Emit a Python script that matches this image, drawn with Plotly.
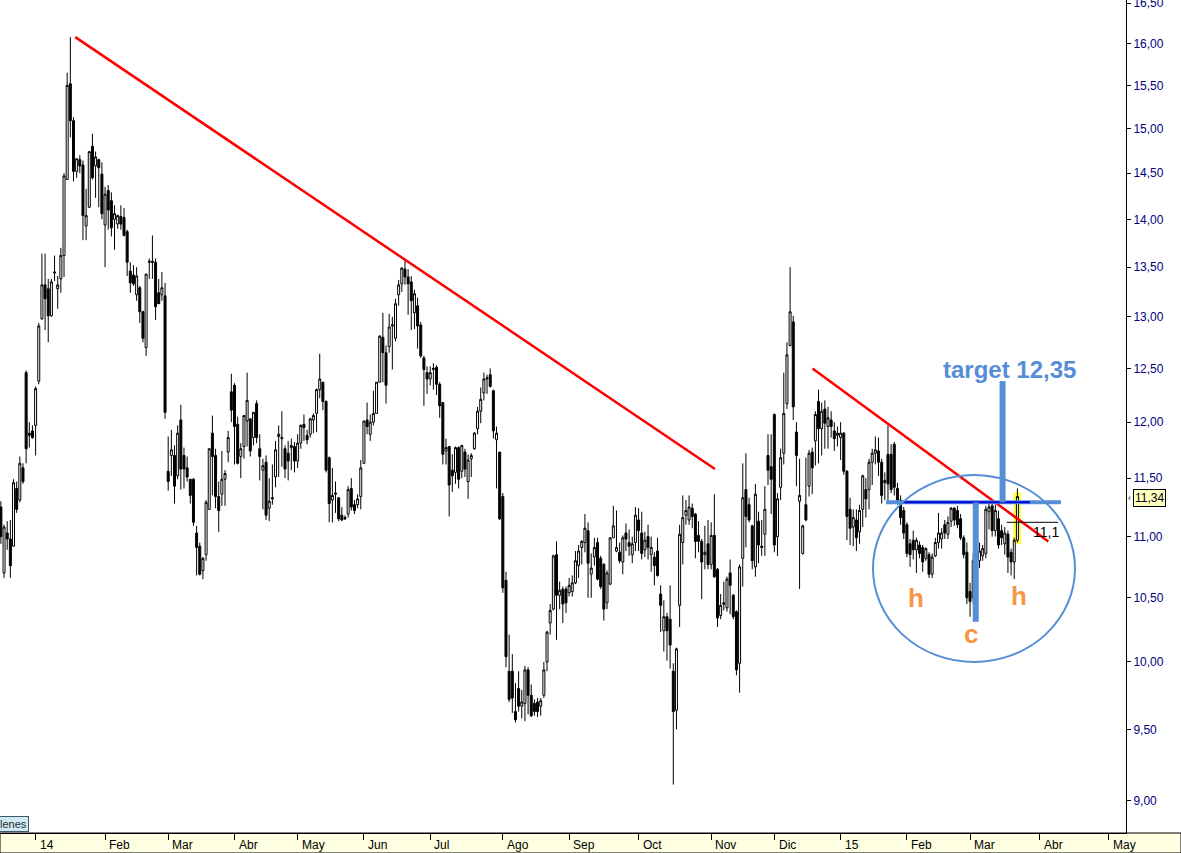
import numpy as np
import pandas as pd
import plotly.graph_objects as go

# ---------------- calendar / labels ----------------
FIRST_SESSION = "2013-12-13"
LAST_SESSION = "2015-03-23"
AXIS_END = "2015-05-29"
HOLIDAYS = ["2013-12-25", "2013-12-26", "2014-01-01", "2014-04-18", "2014-04-21",
            "2014-05-01", "2014-12-25", "2014-12-26", "2015-01-01"]
MONTH_NAMES = ["Ene", "Feb", "Mar", "Abr", "May", "Jun", "Jul", "Ago", "Sep", "Oct", "Nov", "Dic"]
PRICE_TICKS = [9.0, 9.5, 10.0, 10.5, 11.0, 11.5, 12.0, 12.5, 13.0, 13.5, 14.0, 14.5, 15.0, 15.5, 16.0, 16.5]
LAST_PRICE = 11.34

# ---------------- daily OHLC ----------------
opens = [
    11.25, 10.70, 11.03, 10.98, 10.92, 11.41, 11.31, 11.59, 12.46, 11.90,
    11.92, 11.97, 12.38, 12.98, 13.32, 13.28, 13.01, 13.44, 13.28, 13.38,
    13.62, 14.43, 15.52, 15.09, 14.52, 14.65, 14.59, 13.93, 14.13, 14.80,
    14.58, 14.65, 14.49, 13.94, 14.31, 14.20, 14.00, 13.95, 14.03, 14.02,
    13.87, 13.46, 13.42, 13.22, 13.29, 13.05, 12.70, 13.55, 13.56, 13.55,
    13.24, 13.22, 13.21, 11.56, 11.70, 11.70, 11.52, 12.02, 11.70, 11.59,
    11.49, 11.49, 11.03, 10.92, 10.72, 10.85, 11.23, 11.90,
    11.70, 11.34, 11.36, 11.49, 11.73, 12.28, 12.34, 11.98, 11.69, 11.78,
    12.01, 12.03, 11.86, 12.17, 11.76, 11.57, 11.64, 11.24, 11.32, 11.51,
    11.87, 11.85, 11.76, 11.72, 11.77, 11.78, 11.65, 11.81, 11.98, 11.88,
    11.89, 12.02, 12.08, 12.30, 12.37, 12.19, 11.68, 11.31, 11.36, 11.33,
    11.18, 11.16, 11.19, 11.41, 11.27, 11.27, 11.34, 11.63, 12.02, 11.89,
    12.00, 12.08, 12.37, 12.80, 12.65, 12.71, 12.91, 12.79, 13.22, 13.33,
    13.48, 13.40, 13.35, 13.04, 13.11, 12.92,
    12.60,
    12.46, 12.40, 12.49, 12.51, 12.35, 12.18, 11.74, 11.78, 11.57, 11.55,
    11.77, 11.56, 11.73, 11.47, 11.67, 11.76, 11.94, 12.10, 12.27, 12.40,
    12.44, 12.29, 11.84, 11.73, 11.34, 10.64, 9.93, 9.93, 9.63, 9.80,
    9.67, 9.69, 9.94, 9.75, 9.69, 9.70, 9.67, 9.75, 10.00, 10.30,
    10.41, 10.85, 10.52, 10.57, 10.57, 10.54, 10.55, 10.62, 10.76, 10.91,
    10.95, 11.05, 10.69, 10.83, 10.95, 10.82, 10.77, 10.46, 10.61, 10.99,
    10.88, 10.87, 10.79,
    11.03, 10.95, 10.85, 10.95, 11.14, 11.03, 10.89, 11.00, 10.85, 10.83,
    10.88, 10.53, 10.24, 10.35, 10.33, 9.93, 9.64, 10.44, 10.95, 11.18,
    11.14, 11.24, 11.19, 11.01, 10.96, 10.85, 10.94, 10.77, 11.01, 10.73,
    10.36, 10.46, 10.42, 10.70, 10.52, 10.39, 9.99, 10.82, 11.40, 11.27,
    11.09, 10.75, 11.13, 10.92, 11.02, 11.70, 11.60, 12.07, 11.00, 11.42,
    11.72, 12.17, 12.72, 12.95, 11.91, 11.30, 10.86, 11.27, 11.43, 11.73,
    11.83, 12.19, 11.94, 12.12, 11.96,
    12.02, 11.92, 11.88, 11.86, 11.90, 11.56, 11.23, 11.08, 11.14, 11.04,
    11.23, 11.40, 11.40, 11.64, 11.72, 11.74, 11.64, 11.46, 11.71, 11.71, 11.80,
    11.41, 11.31, 11.22, 11.10, 10.94, 10.97, 10.89, 10.93, 10.91, 10.82,
    10.85, 10.69, 10.84, 10.95, 10.98, 11.10, 11.02, 11.13, 11.24, 11.22,
    11.15, 10.99, 10.87, 10.55, 10.50, 10.83, 10.80, 10.84, 10.86, 11.21,
    11.26, 11.05, 11.15, 11.05, 10.94, 11.02, 10.87, 10.79, 10.97,
]
highs = [
    11.30, 11.10, 11.13, 11.14, 11.49, 11.47, 11.69, 11.63, 12.48, 12.00,
    11.97, 12.33, 12.94, 13.64, 13.64, 13.38, 13.38, 13.62, 13.41, 13.70,
    14.50, 15.65, 16.08, 15.13, 14.66, 14.70, 14.64, 14.33, 14.74, 14.94,
    14.74, 14.66, 14.62, 14.35, 14.37, 14.29, 14.15, 14.05, 14.15, 14.12,
    13.89, 13.55, 13.52, 13.50, 13.31, 13.06, 13.43, 13.59, 13.83, 13.59,
    13.38, 13.45, 13.34, 11.87, 11.93, 11.79, 11.97, 12.16, 11.77, 11.69,
    11.49, 11.50, 11.09, 10.95, 10.83, 11.31, 11.76, 12.06,
    11.76, 11.47, 11.74, 11.57, 11.92, 12.45, 12.36, 12.05, 11.81, 12.06,
    12.46, 12.03, 12.09, 12.20, 11.89, 11.67, 11.70, 11.50, 11.62, 11.83,
    11.97, 12.10, 11.79, 11.83, 11.85, 11.82, 11.89, 11.98, 12.07, 11.93,
    12.04, 12.08, 12.31, 12.64, 12.37, 12.20, 11.69, 11.59, 11.47, 11.33,
    11.25, 11.18, 11.43, 11.50, 11.31, 11.36, 11.66, 12.01, 12.18, 12.07,
    12.29, 12.37, 12.82, 13.04, 12.72, 13.03, 13.00, 13.18, 13.37, 13.50,
    13.58, 13.48, 13.41, 13.27, 13.19, 12.95,
    12.62,
    12.52, 12.52, 12.55, 12.53, 12.37, 12.18, 11.85, 11.78, 11.71, 11.78,
    11.78, 11.79, 11.76, 11.71, 11.72, 11.91, 12.14, 12.32, 12.46, 12.44,
    12.50, 12.30, 11.96, 11.73, 11.37, 10.71, 10.21, 10.06, 9.84, 9.93,
    9.79, 9.97, 9.96, 9.83, 9.72, 9.73, 9.73, 10.00, 10.24, 10.45,
    10.85, 10.96, 10.63, 10.59, 10.59, 10.66, 10.68, 10.88, 10.93, 10.97,
    11.19, 11.12, 10.86, 10.99, 10.99, 10.84, 10.78, 10.72, 10.99, 11.26,
    11.22, 10.95, 11.01,
    11.11, 11.06, 11.00, 11.25, 11.24, 11.21, 11.04, 11.10, 11.00, 10.87,
    10.99, 10.60, 10.48, 10.38, 10.60, 9.99, 10.11, 11.10, 11.35, 11.31,
    11.35, 11.28, 11.20, 11.13, 10.98, 11.09, 11.14, 11.12, 11.36, 10.74,
    10.53, 10.63, 10.67, 10.81, 10.53, 10.40, 10.77, 11.63, 11.72, 11.33,
    11.10, 11.45, 11.21, 11.14, 11.43, 11.89, 11.89, 12.08, 11.37, 11.76,
    12.46, 12.75, 13.50, 13.01, 12.00, 11.67, 11.10, 11.68, 11.75, 11.77,
    12.10, 12.30, 12.18, 12.20, 12.14,
    12.10, 12.00, 11.96, 12.00, 11.91, 11.57, 11.33, 11.23, 11.23, 11.27,
    11.53, 11.50, 11.67, 11.76, 11.87, 11.86, 11.67, 11.55, 11.97, 11.80, 11.82,
    11.46, 11.35, 11.25, 11.12, 10.98, 11.05, 10.99, 10.96, 10.93, 10.91,
    10.87, 10.86, 10.99, 11.20, 11.07, 11.14, 11.17, 11.25, 11.25, 11.26,
    11.19, 11.01, 10.95, 10.62, 10.86, 10.90, 10.95, 10.93, 11.26, 11.30,
    11.30, 11.27, 11.22, 11.10, 11.08, 11.05, 10.90, 10.99, 11.41,
]
lows = [
    10.94, 10.66, 10.89, 10.66, 10.92, 11.20, 11.29, 11.45, 11.63, 11.77,
    11.85, 11.70, 12.35, 12.97, 12.87, 12.75, 13.00, 13.36, 13.08, 13.24,
    13.40, 14.43, 14.90, 14.41, 14.45, 14.50, 13.78, 13.78, 14.12, 14.43,
    14.23, 14.13, 14.00, 13.50, 13.89, 13.82, 13.68, 13.90, 13.89, 13.82,
    13.41, 13.24, 13.31, 13.16, 12.94, 12.75, 12.62, 13.38, 13.38, 12.97,
    13.13, 13.16, 12.03, 11.39, 11.52, 11.28, 11.49, 11.40, 11.41, 11.47,
    11.28, 11.09, 10.68, 10.68, 10.65, 10.80, 11.23, 11.35,
    11.24, 11.04, 11.26, 11.26, 11.64, 12.00, 11.62, 11.62, 11.50, 11.67,
    11.78, 11.69, 11.79, 11.81, 11.48, 11.23, 11.14, 11.13, 11.27, 11.42,
    11.51, 11.60, 11.50, 11.48, 11.57, 11.55, 11.59, 11.76, 11.83, 11.80,
    11.86, 11.90, 11.91, 12.22, 12.11, 11.55, 11.12, 11.12, 11.20, 11.13,
    11.13, 11.14, 11.16, 11.22, 11.19, 11.24, 11.23, 11.63, 11.89, 11.83,
    11.97, 12.08, 12.37, 12.37, 12.17, 12.65, 12.49, 12.76, 13.11, 13.25,
    13.32, 13.02, 12.87, 12.88, 12.69, 12.60,
    12.15,
    12.26, 12.34, 12.30, 12.25, 12.04, 11.62, 11.62, 11.17, 11.38, 11.45,
    11.41, 11.50, 11.51, 11.32, 11.51, 11.75, 11.89, 11.99, 12.20, 12.26,
    12.32, 11.85, 11.41, 11.14, 10.54, 9.96, 9.70, 9.62, 9.55, 9.63,
    9.58, 9.56, 9.61, 9.59, 9.60, 9.59, 9.60, 9.73, 9.93, 10.21,
    10.40, 10.17, 10.41, 10.30, 10.38, 10.51, 10.51, 10.61, 10.66, 10.77,
    10.87, 10.50, 10.50, 10.76, 10.64, 10.57, 10.32, 10.41, 10.60, 10.99,
    10.87, 10.78, 10.69,
    10.88, 10.84, 10.78, 10.88, 10.88, 10.81, 10.83, 10.81, 10.71, 10.60,
    10.67, 10.23, 10.08, 10.01, 9.95, 9.11, 9.50, 10.27, 10.77, 11.10,
    11.10, 11.07, 10.82, 10.87, 10.49, 10.73, 10.73, 10.73, 10.66, 10.27,
    10.33, 10.40, 10.39, 10.37, 10.33, 9.90, 9.77, 10.59, 10.91, 11.12,
    10.73, 10.67, 10.78, 10.84, 10.84, 11.44, 11.19, 10.87, 10.84, 11.31,
    11.62, 12.12, 12.71, 12.02, 11.43, 10.57, 10.85, 11.13, 11.34, 11.36,
    11.61, 11.63, 11.70, 11.76, 11.76,
    11.86, 11.74, 11.78, 11.66, 11.53, 10.97, 10.93, 10.92, 10.88, 10.94,
    11.08, 11.16, 11.23, 11.44, 11.62, 11.52, 11.28, 11.31, 11.28, 11.37, 11.35,
    11.27, 11.10, 10.98, 10.83, 10.75, 10.81, 10.70, 10.82, 10.71, 10.80,
    10.66, 10.66, 10.83, 10.90, 10.90, 10.98, 10.98, 11.08, 11.09, 11.07,
    10.97, 10.82, 10.45, 10.35, 10.45, 10.70, 10.74, 10.80, 10.82, 11.06,
    11.00, 11.00, 10.90, 10.93, 10.85, 10.70, 10.68, 10.65, 10.95,
]
closes = [
    11.00, 11.08, 10.98, 10.76, 11.46, 11.23, 11.63, 11.47, 11.76, 11.88,
    11.86, 12.31, 12.91, 13.32, 13.18, 13.01, 13.35, 13.45, 13.32, 13.62,
    14.47, 15.50, 15.09, 14.52, 14.66, 14.58, 14.04, 14.04, 14.74, 14.45,
    14.68, 14.56, 14.06, 14.27, 14.10, 13.91, 14.06, 14.04, 13.95, 13.83,
    13.55, 13.34, 13.33, 13.41, 13.05, 12.79, 13.43, 13.56, 13.55, 13.10,
    13.13, 13.29, 12.09, 11.47, 11.75, 11.43, 11.90, 11.58, 11.58, 11.51,
    11.35, 11.12, 10.91, 10.69, 10.82, 11.29, 11.76, 11.69,
    11.34, 11.22, 11.49, 11.54, 11.86, 12.11, 11.96, 11.63, 11.76, 12.06,
    12.20, 11.74, 12.09, 11.86, 11.69, 11.61, 11.18, 11.30, 11.33, 11.75,
    11.89, 11.86, 11.58, 11.65, 11.79, 11.65, 11.81, 11.97, 11.95, 11.84,
    12.03, 12.06, 12.30, 12.40, 12.19, 11.57, 11.28, 11.35, 11.37, 11.15,
    11.14, 11.15, 11.40, 11.25, 11.22, 11.32, 11.59, 12.01, 11.96, 12.00,
    12.08, 12.37, 12.81, 12.65, 12.34, 12.90, 12.92, 13.13, 13.32, 13.49,
    13.40, 13.33, 13.16, 13.23, 12.91, 12.62,
    12.49,
    12.40, 12.46, 12.50, 12.35, 12.15, 11.71, 11.77, 11.44, 11.52, 11.77,
    11.49, 11.79, 11.58, 11.66, 11.70, 11.90, 12.10, 12.21, 12.40, 12.41,
    12.33, 11.92, 11.90, 11.15, 10.58, 10.04, 9.72, 9.73, 9.57, 9.67,
    9.70, 9.94, 9.75, 9.60, 9.63, 9.63, 9.71, 9.94, 10.23, 10.40,
    10.84, 10.52, 10.56, 10.45, 10.46, 10.60, 10.62, 10.80, 10.88, 10.96,
    11.07, 10.78, 10.74, 10.91, 10.65, 10.59, 10.41, 10.70, 10.99, 11.09,
    10.91, 10.80, 10.99,
    10.98, 10.92, 10.94, 11.18, 11.05, 10.86, 10.97, 10.91, 10.91, 10.76,
    10.68, 10.44, 10.35, 10.24, 10.13, 9.63, 10.10, 11.02, 11.16, 11.22,
    11.25, 11.17, 10.96, 10.96, 10.79, 10.87, 10.77, 11.01, 10.67, 10.34,
    10.44, 10.45, 10.65, 10.60, 10.35, 9.94, 10.75, 11.33, 11.17, 11.14,
    10.80, 11.36, 10.93, 10.91, 11.23, 11.57, 11.49, 10.93, 11.32, 11.68,
    12.08, 12.63, 13.05, 12.14, 11.70, 11.35, 11.09, 11.14, 11.72, 11.59,
    12.07, 11.94, 12.10, 11.99, 12.04,
    11.96, 11.85, 11.90, 11.90, 11.56, 11.17, 11.07, 11.16, 10.99, 11.22,
    11.52, 11.32, 11.64, 11.72, 11.75, 11.64, 11.35, 11.48, 11.45, 11.40, 11.42,
    11.31, 11.16, 11.03, 10.86, 10.85, 10.89, 10.97, 10.86, 10.79, 10.90,
    10.69, 10.83, 10.95, 11.03, 11.03, 11.03, 11.12, 11.24, 11.14, 11.10,
    10.99, 10.85, 10.50, 10.47, 10.80, 10.79, 10.88, 10.90, 11.23, 11.25,
    11.05, 11.22, 10.93, 10.99, 11.03, 10.83, 10.79, 10.97, 11.34,
]

# ---------------- drawn annotations (session index, price) ----------------
TREND_1 = [(23.57, 16.08), (226.2, 11.58)]
TREND_2 = [(257.1, 12.50), (331.8, 10.96)]
NECK_WIDE = [(280.4, 11.29), (335.8, 11.29)]
NECK_DARK = [(285.7, 11.29), (326.0, 11.29)]
C_BAR = [(308.8, 10.31), (308.8, 11.29)]
TARGET_BAR = [(317.3, 11.29), (317.3, 12.38)]
MARK_11 = [(318.6, 11.12), (334.9, 11.12)]

# ---------------- geometry ----------------
W, H = 1181, 853
PLOT_W, PLOT_H = 1126, 833
X_RANGE = [-0.28, 356.4]
Y_RANGE = [np.log10(8.781), np.log10(16.54)]
FONT = "Liberation Sans, Arial, sans-serif"
BLUE = "#558ED5"
ORANGE = "#F79646"


def pxx(v):
    return v / PLOT_W


def pxy(v):
    return 1 - v / PLOT_H


n = min(len(opens), len(highs), len(lows), len(closes))
sessions = pd.bdate_range(FIRST_SESSION, LAST_SESSION, freq="C", holidays=HOLIDAYS)
future = pd.bdate_range(pd.Timestamp(LAST_SESSION) + pd.Timedelta(days=1), AXIS_END)
calendar = list(sessions) + list(future)
x = list(range(n))
hover_dates = [d.strftime("%d/%m/%Y") for d in calendar[:n]]

tickvals, ticktext = [], []
for i in range(1, len(calendar)):
    if calendar[i].month != calendar[i - 1].month:
        tickvals.append(i)
        m = calendar[i].month
        ticktext.append(f"{calendar[i].year % 100:02d}" if m == 1 else MONTH_NAMES[m - 1])

fig = go.Figure()
fig.add_trace(go.Candlestick(
    x=x, open=opens[:n], high=highs[:n], low=lows[:n], close=closes[:n],
    text=hover_dates,
    increasing=dict(line=dict(color="black", width=1), fillcolor="white"),
    decreasing=dict(line=dict(color="black", width=1), fillcolor="black"),
    whiskerwidth=0, showlegend=False,
))


def seg(pts, color, width):
    fig.add_trace(go.Scatter(
        x=[p[0] for p in pts], y=[p[1] for p in pts], mode="lines",
        line=dict(color=color, width=width), hoverinfo="skip", showlegend=False,
    ))


seg(TREND_1, "#FF0000", 2.5)
seg(TREND_2, "#FF0000", 2.5)
seg(NECK_WIDE, BLUE, 4)
seg(NECK_DARK, "#0000E0", 2)
seg(C_BAR, BLUE, 6)
seg(TARGET_BAR, BLUE, 6)
seg(MARK_11, "black", 1)

shapes = [
    # bottom date band
    dict(type="rect", xref="paper", yref="paper", x0=0, x1=W / PLOT_W,
         y0=-(H - PLOT_H) / PLOT_H, y1=0, fillcolor="#FFFFE1",
         line=dict(color="black", width=1), layer="below"),
    # yellow highlight of last candle
    dict(type="rect", xref="paper", yref="paper", x0=pxx(1013.3), x1=pxx(1021),
         y0=pxy(544.3), y1=pxy(492.3), fillcolor="#FFFF40", line=dict(width=0),
         layer="below"),
    # ellipse round the pattern
    dict(type="circle", xref="paper", yref="paper", x0=pxx(873), x1=pxx(1075),
         y0=pxy(662), y1=pxy(475), line=dict(color=BLUE, width=2), layer="above"),
]

annotations = []
for tv, tt in zip(tickvals, ticktext):
    annotations.append(dict(x=tv + 0.7, y=pxy(845), xref="x", yref="paper", text=tt,
                            showarrow=False, xanchor="left", yanchor="middle",
                            font=dict(family=FONT, size=12, color="black")))


def label(px_x, px_y, text, size, color, bold=False, **kw):
    font = dict(family=FONT, size=size, color=color)
    if bold:
        font["weight"] = "bold"
    d = dict(x=pxx(px_x), y=pxy(px_y), xref="paper", yref="paper", text=text,
             showarrow=False, xanchor="center", yanchor="middle", font=font)
    d.update(kw)
    annotations.append(d)


label(1010, 370, "target 12,35", 24, BLUE, bold=True)
label(916, 598, "h", 26, ORANGE, bold=True)
label(1019.3, 596, "h", 26, ORANGE, bold=True)
label(971, 634, "c", 26, ORANGE, bold=True)
label(1046, 532, "11,1", 14, "black")
label(1133, 497.5, f"{LAST_PRICE:.2f}".replace(".", ","), 12, "black",
      xanchor="left", bgcolor="#FFFFC0", bordercolor="black", borderwidth=1, borderpad=1)
label(1129.5, 497.5, "‹", 9, "black")
label(-2, 823.5, "lenes", 11, "#1A3040", xanchor="left", bgcolor="#D2E8F0",
      bordercolor="#3A5A70", borderwidth=1, borderpad=1)

fig.update_layout(
    width=W, height=H,
    margin=dict(l=0, r=W - PLOT_W, t=0, b=H - PLOT_H, autoexpand=False),
    paper_bgcolor="white", plot_bgcolor="white",
    showlegend=False, boxgap=0.1, hovermode=False,
    shapes=shapes, annotations=annotations,
    xaxis=dict(range=X_RANGE, tickmode="array", tickvals=tickvals, showticklabels=False,
               ticks="outside", ticklen=6, tickcolor="black", tickwidth=1,
               showline=True, linecolor="black", linewidth=1, mirror=True,
               showgrid=False, zeroline=False, rangeslider=dict(visible=False),
               fixedrange=True, automargin=False),
    yaxis=dict(type="log", range=Y_RANGE, side="right", tickmode="array",
               tickvals=PRICE_TICKS,
               ticktext=[f"{v:.2f}".replace(".", ",") for v in PRICE_TICKS],
               tickfont=dict(family=FONT, size=12, color="#000080"),
               ticks="outside", ticklen=4, tickcolor="black",
               ticklabeloverflow="allow",
               showline=True, linecolor="black", linewidth=1,
               showgrid=False, zeroline=False, fixedrange=True, automargin=False),
)

fig.write_html(
    "out.html",
    config={"displayModeBar": False, "staticPlot": True},
    post_script="document.body.style.margin='0px';document.body.style.overflow='hidden';",
)
